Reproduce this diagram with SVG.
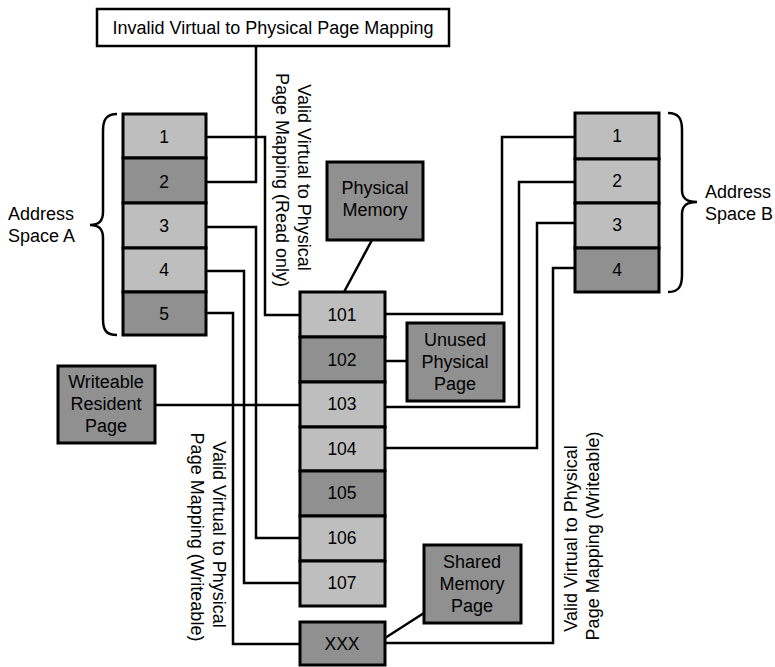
<svg xmlns="http://www.w3.org/2000/svg" width="775" height="667" viewBox="0 0 775 667">
  <style>
    .lbl { font-family: "Liberation Sans", Arial, sans-serif; font-size: 18px; fill: #000; }
    .num { font-family: "Liberation Sans", Arial, sans-serif; font-size: 17.5px; fill: #000; text-anchor: middle; }
    .box { font-family: "Liberation Sans", Arial, sans-serif; font-size: 18px; fill: #000; text-anchor: middle; }
    .light { fill: #bebebe; stroke: #000; stroke-width: 3; }
    .dark { fill: #909090; stroke: #000; stroke-width: 3; }
    .plain { fill: #fff; stroke: #000; stroke-width: 2.5; }
    .wire { fill: none; stroke: #000; stroke-width: 2.5; stroke-linejoin: miter; }
    .brace { fill: none; stroke: #000; stroke-width: 2.5; }
  </style>

  <!-- connectors -->
  <g id="connectors" class="wire">
    <!-- address space A -->
    <polyline points="206,137 265,137 265,315 300,315"/>
    <polyline points="206,182 256,182 256,46"/>
    <polyline points="206,227 256,227 256,538 300,538"/>
    <polyline points="206,271 244,271 244,583 300,583"/>
    <polyline points="206,313 233,313 233,644 300,644"/>
    <!-- address space B -->
    <polyline points="575,137 502,137 502,314 385,314"/>
    <polyline points="575,182 519,182 519,407 385,407"/>
    <polyline points="575,223 537,223 537,448 385,448"/>
    <polyline points="575,268 553,268 553,643 385,643"/>
    <!-- annotations -->
    <line x1="372" y1="240" x2="344" y2="292"/>
    <line x1="385" y1="361" x2="407" y2="361"/>
    <line x1="155" y1="405" x2="300" y2="405"/>
    <line x1="385" y1="638" x2="424" y2="613"/>
  </g>

  <!-- invalid mapping label -->
  <g id="invalid-mapping">
    <rect class="plain" x="97" y="9" width="352" height="37"/>
    <text class="lbl" x="273" y="34" text-anchor="middle">Invalid Virtual to Physical Page Mapping</text>
  </g>

  <!-- address space A -->
  <g id="address-space-a">
    <rect class="light" x="123" y="114" width="83" height="44"/>
    <rect class="dark" x="123" y="158" width="83" height="45"/>
    <rect class="light" x="123" y="203" width="83" height="45"/>
    <rect class="light" x="123" y="248" width="83" height="44"/>
    <rect class="dark" x="123" y="292" width="83" height="43"/>
    <text class="num" x="164" y="143">1</text>
    <text class="num" x="164" y="188">2</text>
    <text class="num" x="164" y="232">3</text>
    <text class="num" x="164" y="276">4</text>
    <text class="num" x="164" y="320">5</text>
    <path class="brace" d="M117,114 C106,114 103,120 103,131 L103,212 C103,221 99,225 90,225 C99,225 103,229 103,238 L103,319 C103,330 106,335 117,335"/>
    <text class="lbl" x="8" y="220">Address</text>
    <text class="lbl" x="8" y="242">Space A</text>
  </g>

  <!-- address space B -->
  <g id="address-space-b">
    <rect class="light" x="575" y="113" width="84" height="46"/>
    <rect class="light" x="575" y="159" width="84" height="44"/>
    <rect class="light" x="575" y="203" width="84" height="45"/>
    <rect class="dark" x="575" y="248" width="84" height="44"/>
    <text class="num" x="617" y="142">1</text>
    <text class="num" x="617" y="187">2</text>
    <text class="num" x="617" y="231">3</text>
    <text class="num" x="617" y="276">4</text>
    <path class="brace" d="M668,113 C679,113 682,119 682,130 L682,190 C682,198 686,202 697,202 C686,202 682,206 682,214 L682,275 C682,286 679,292 668,292"/>
    <text class="lbl" x="705" y="198">Address</text>
    <text class="lbl" x="705" y="220">Space B</text>
  </g>

  <!-- physical memory pages -->
  <g id="physical-pages">
    <rect class="light" x="300" y="292" width="85" height="45"/>
    <rect class="dark" x="300" y="337" width="85" height="45"/>
    <rect class="light" x="300" y="382" width="85" height="45"/>
    <rect class="light" x="300" y="427" width="85" height="44"/>
    <rect class="dark" x="300" y="471" width="85" height="45"/>
    <rect class="light" x="300" y="516" width="85" height="45"/>
    <rect class="light" x="300" y="561" width="85" height="45"/>
    <text class="num" x="342" y="321">101</text>
    <text class="num" x="342" y="366">102</text>
    <text class="num" x="342" y="410">103</text>
    <text class="num" x="342" y="455">104</text>
    <text class="num" x="342" y="499">105</text>
    <text class="num" x="342" y="544">106</text>
    <text class="num" x="342" y="589">107</text>
  </g>

  <g id="shared-page-xxx">
    <rect class="dark" x="300" y="622" width="85" height="43"/>
    <text class="num" x="342" y="650">XXX</text>
  </g>

  <g id="physical-memory">
    <rect class="dark" x="327" y="162" width="96" height="78"/>
    <text class="box" x="375" y="194">Physical</text>
    <text class="box" x="375" y="216">Memory</text>
  </g>

  <g id="unused-physical-page">
    <rect class="dark" x="407" y="323" width="97" height="78"/>
    <text class="box" x="455" y="346">Unused</text>
    <text class="box" x="455" y="368">Physical</text>
    <text class="box" x="455" y="390">Page</text>
  </g>

  <g id="writeable-resident-page">
    <rect class="dark" x="58" y="366" width="97" height="77"/>
    <text class="box" x="106" y="388">Writeable</text>
    <text class="box" x="106" y="410">Resident</text>
    <text class="box" x="106" y="432">Page</text>
  </g>

  <g id="shared-memory-page">
    <rect class="dark" x="424" y="545" width="97" height="78"/>
    <text class="box" x="472" y="568">Shared</text>
    <text class="box" x="472" y="590">Memory</text>
    <text class="box" x="472" y="612">Page</text>
  </g>

  <!-- mapping captions -->
  <g id="caption-read-only">
    <text class="lbl" text-anchor="middle" transform="translate(298,180) rotate(90)">
      <tspan x="0" y="0">Valid Virtual to Physical</tspan>
      <tspan x="0" y="22">Page Mapping (Read only)</tspan>
    </text>
  </g>
  <g id="caption-writeable-a">
    <text class="lbl" text-anchor="middle" transform="translate(213,537) rotate(90)">
      <tspan x="0" y="0">Valid Virtual to Physical</tspan>
      <tspan x="0" y="22">Page Mapping (Writeable)</tspan>
    </text>
  </g>
  <g id="caption-writeable-b">
    <text class="lbl" text-anchor="middle" transform="translate(577,536) rotate(-90)">
      <tspan x="0" y="0">Valid Virtual to Physical</tspan>
      <tspan x="0" y="22">Page Mapping (Writeable)</tspan>
    </text>
  </g>
</svg>
